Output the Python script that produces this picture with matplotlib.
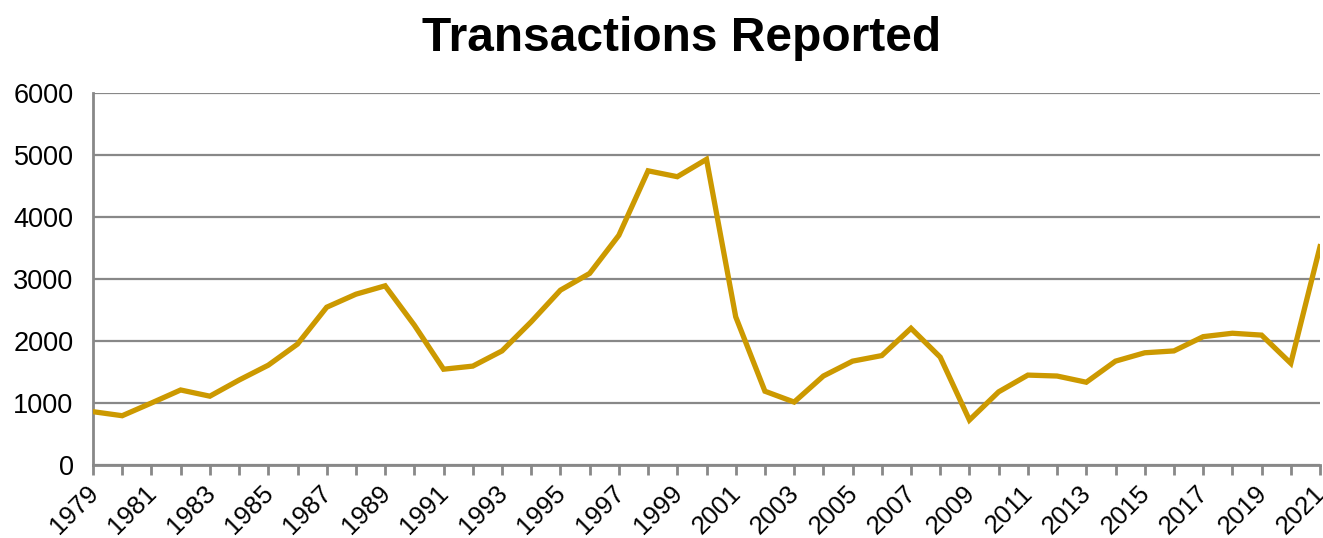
import matplotlib
matplotlib.use("Agg")
from matplotlib import pyplot as plt
import matplotlib.transforms as mtransforms

years = list(range(1979, 2022))
transactions = [860, 795, 1000, 1210, 1110, 1370, 1610, 1950, 2545, 2755,
                2890, 2255, 1545, 1595, 1840, 2310, 2820, 3090, 3705, 4745,
                4650, 4930, 2390, 1190, 1015, 1435, 1675, 1765, 2205, 1740,
                725, 1180, 1450, 1435, 1335, 1675, 1810, 1840, 2070, 2125,
                2095, 1640, 3520]
label_years = list(range(1979, 2022, 2))

plt.rcParams['font.family'] = ['Liberation Sans', 'DejaVu Sans']

fig = plt.figure(figsize=(13.23, 5.38), dpi=100)
ax = fig.add_axes([93/1323, 1 - 465/538, (1320-93)/1323, (465-93)/538])

ax.plot(years, transactions, color='#CC9900', linewidth=3.8, solid_joinstyle='miter', zorder=3)

ax.set_xlim(1979, 2021)
ax.set_ylim(0, 6000)
ax.set_yticks(range(0, 6001, 1000))
ax.set_xticks(years)
ax.set_xticklabels([str(y) if y in label_years else '' for y in years],
                   rotation=45, ha='right', rotation_mode='anchor', fontsize=18.5)
ax.tick_params(axis='y', length=0, labelsize=19.5, pad=14)
ax.tick_params(axis='x', length=7, width=2, color='#888888', direction='out', pad=4)

# nudge the rotated year labels slightly left like the original
offset = mtransforms.ScaledTranslation(-0.07, -0.01, fig.dpi_scale_trans)
for lbl in ax.get_xticklabels():
    lbl.set_transform(lbl.get_transform() + offset)

ax.grid(axis='y', color='#888888', linewidth=1.6, zorder=1)
ax.set_axisbelow(True)
for s in ['top', 'right']:
    ax.spines[s].set_visible(False)
for s in ['left', 'bottom']:
    ax.spines[s].set_color('#888888')
    ax.spines[s].set_linewidth(2)

fig.text(0.515, 0.928, 'Transactions Reported', ha='center', va='center',
         fontsize=34.5, fontweight='bold')

fig.savefig('out.png', dpi=100)
